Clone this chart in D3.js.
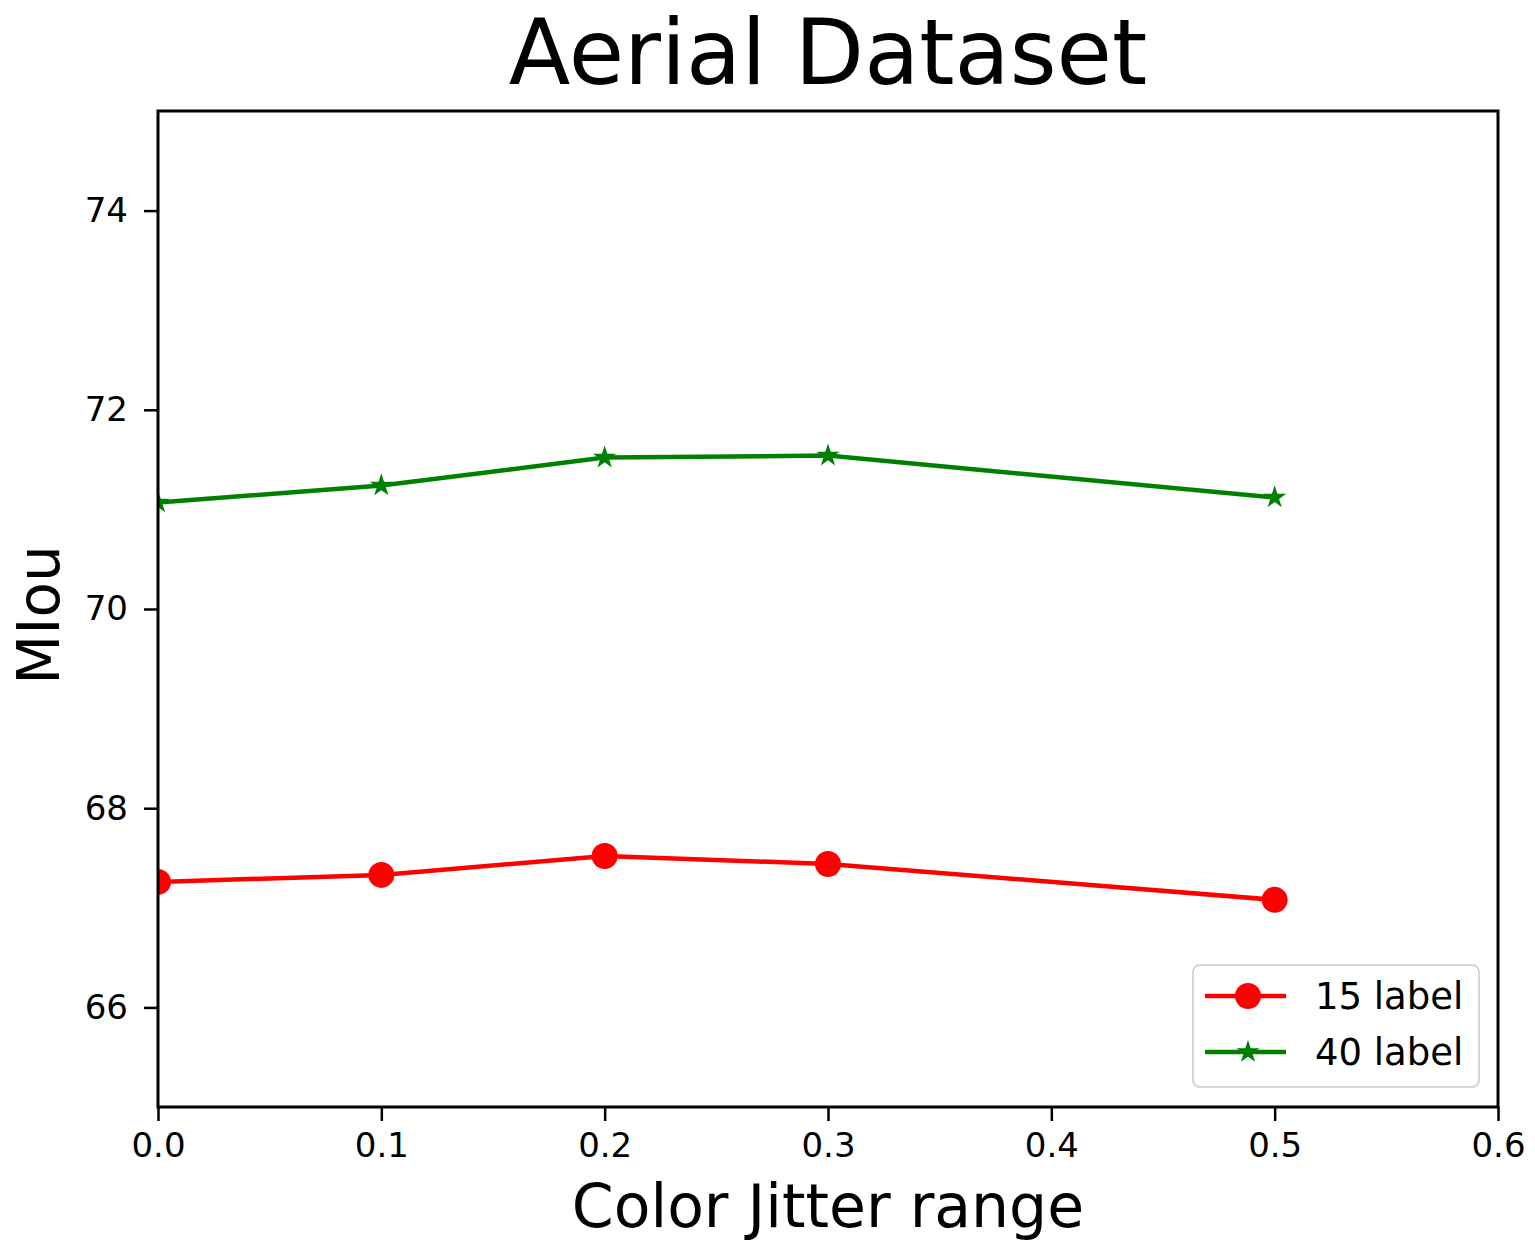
<!DOCTYPE html>
<html>
<head>
<meta charset="utf-8">
<script src="https://cdn.jsdelivr.net/npm/d3@7"></script>
<style>
  body { margin: 0; background: #fff; }
  text { font-family: "DejaVu Sans", sans-serif; }
</style>
</head>
<body>
<svg id="chart" width="1535" height="1259"></svg>
<script>
const width = 1535;
const height = 1259;
const margin = { top: 111, right: 37, bottom: 152, left: 158 };
const chartWidth = width - margin.left - margin.right;
const chartHeight = height - margin.top - margin.bottom;

// data
const jitter = [0.0, 0.1, 0.2, 0.3, 0.5];
const label15 = [67.26, 67.33, 67.52, 67.44, 67.08];
const label40 = [71.07, 71.24, 71.52, 71.54, 71.12];
const xTicks = [0.0, 0.1, 0.2, 0.3, 0.4, 0.5, 0.6];
const yTicks = [66, 68, 70, 72, 74];

const series = [
  { name: "15 label", values: label15, color: "#ff0000", marker: "circle" },
  { name: "40 label", values: label40, color: "#008000", marker: "star" }
];

const svg = d3.select("#chart");
const g = svg.append("g").attr("transform", `translate(${margin.left},${margin.top})`);

const x = d3.scaleLinear().domain([0, 0.6]).range([0, chartWidth]);
const y = d3.scaleLinear().domain([65, 75]).range([chartHeight, 0]);

svg.append("defs").append("clipPath").attr("id", "plotClip")
  .append("rect").attr("width", chartWidth).attr("height", chartHeight);

// axes
const xAxis = g.append("g")
  .attr("transform", `translate(0,${chartHeight})`)
  .call(d3.axisBottom(x).tickValues(xTicks).tickFormat(d3.format(".1f")).tickSize(14).tickPadding(12));
const yAxis = g.append("g")
  .call(d3.axisLeft(y).tickValues(yTicks).tickSize(14).tickPadding(16));

[xAxis, yAxis].forEach(ax => {
  ax.select(".domain").remove();
  ax.selectAll(".tick line").attr("stroke", "#000").attr("stroke-width", 2.5);
  ax.selectAll(".tick text").attr("fill", "#000").style("font-size", "34px")
    .style("font-family", "'DejaVu Sans', sans-serif");
});

// lines and markers
const line = d3.line().x((d, i) => x(jitter[i])).y(d => y(d));
const plot = g.append("g").attr("clip-path", "url(#plotClip)");

function marker(sel, type) {
  if (type === "circle") {
    sel.append("circle").attr("r", 13);
  } else {
    sel.append("path").attr("d", d3.symbol().type(d3.symbolStar).size(165)());
  }
}

series.forEach(s => {
  plot.append("path")
    .datum(s.values)
    .attr("fill", "none")
    .attr("stroke", s.color)
    .attr("stroke-width", 4.5)
    .attr("d", line);

  plot.selectAll(null)
    .data(s.values)
    .enter()
    .append("g")
    .attr("transform", (d, i) => `translate(${x(jitter[i])},${y(d)})`)
    .attr("fill", s.color)
    .each(function() { marker(d3.select(this), s.marker); });
});

// frame
g.append("rect")
  .attr("width", chartWidth)
  .attr("height", chartHeight)
  .attr("fill", "none")
  .attr("stroke", "#000")
  .attr("stroke-width", 3);

// legend
const legend = g.append("g").attr("transform", `translate(${1193 - margin.left},${965 - margin.top})`);
legend.append("rect")
  .attr("width", 286)
  .attr("height", 122)
  .attr("rx", 7)
  .attr("fill", "#fff")
  .attr("fill-opacity", 0.8)
  .attr("stroke", "#d6d6d6")
  .attr("stroke-width", 2);

series.forEach((s, i) => {
  const row = legend.append("g").attr("transform", `translate(0,${31 + i * 56})`);
  row.append("line")
    .attr("x1", 12).attr("x2", 93)
    .attr("stroke", s.color).attr("stroke-width", 4.5);
  const m = row.append("g").attr("transform", "translate(55,0)").attr("fill", s.color);
  marker(m, s.marker);
  row.append("text")
    .attr("x", 122)
    .attr("y", 13)
    .style("font-size", "37px")
    .attr("fill", "#000")
    .text(s.name);
});

// titles
svg.append("text")
  .attr("x", margin.left + chartWidth / 2)
  .attr("y", 84)
  .attr("text-anchor", "middle")
  .style("font-size", "90px")
  .text("Aerial Dataset");

svg.append("text")
  .attr("x", margin.left + chartWidth / 2)
  .attr("y", 1227)
  .attr("text-anchor", "middle")
  .style("font-size", "60px")
  .text("Color Jitter range");

svg.append("text")
  .attr("transform", `translate(59,${margin.top + chartHeight / 2 + 6}) rotate(-90)`)
  .attr("text-anchor", "middle")
  .style("font-size", "58px")
  .text("MIou");
</script>
</body>
</html>
